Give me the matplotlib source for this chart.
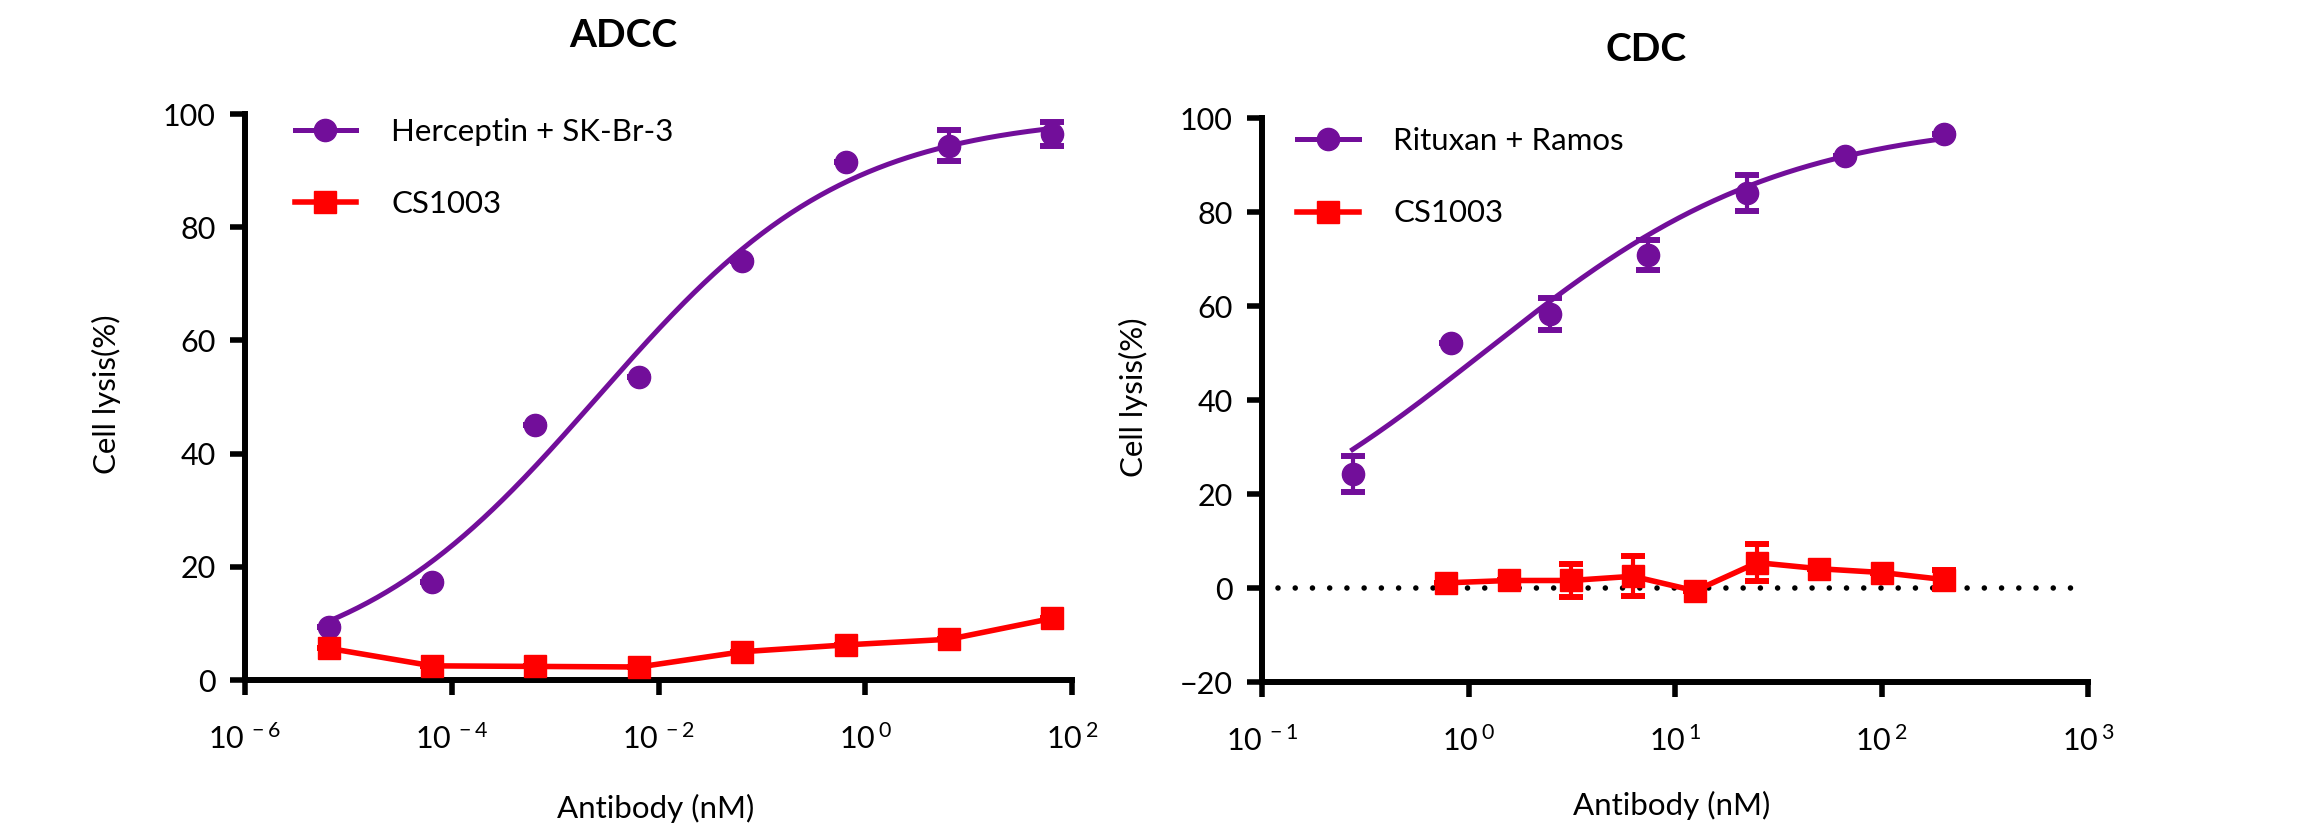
import matplotlib
matplotlib.use('Agg')
import matplotlib.pyplot as plt
from matplotlib.lines import Line2D
from matplotlib.ticker import FixedLocator, FuncFormatter, NullLocator
import numpy as np

plt.rcParams['font.family'] = ['Lato', 'DejaVu Sans']
plt.rcParams['mathtext.default'] = 'regular'

PURPLE = '#720E9A'
RED = '#FF0000'

# ADCC data (antibody nM, % lysis)
adcc_conc = [6.45e-6, 6.45e-5, 6.45e-4, 6.45e-3, 6.45e-2, 0.645, 6.45, 64.5]
adcc_herceptin = [9.4, 17.3, 45.1, 53.6, 74.1, 91.6, 94.4, 96.5]
adcc_herceptin_err = [0, 0, 0, 0, 0, 0, 2.7, 2.1]
adcc_cs1003 = [5.6, 2.5, 2.4, 2.3, 5.0, 6.2, 7.2, 10.9]
adcc_cs1003_err = [0, 0, 0, 0, 0, 0, 0, 0]
# 4PL fit: bottom, top, logEC50, hill slope
adcc_fit = [0.0, 100.0, -2.59, 0.36]

# CDC data
cdc_conc_rituxan = [0.2743, 0.823, 2.469, 7.407, 22.22, 66.67, 200]
cdc_rituxan = [24.3, 52.2, 58.3, 70.8, 84.1, 92.0, 96.5]
cdc_rituxan_err = [3.8, 0, 3.5, 3.2, 3.8, 0, 0]
cdc_conc_cs1003 = [0.78125, 1.5625, 3.125, 6.25, 12.5, 25, 50, 100, 200]
cdc_cs1003 = [1.1, 1.6, 1.6, 2.5, -0.6, 5.4, 4.1, 3.3, 1.8]
cdc_cs1003_err = [0, 0, 3.5, 4.3, 0, 4.0, 0, 0, 2.0]
cdc_fit = [0.0, 100.0, 0.07, 0.6]


def hill(logx, bottom, top, logec50, slope):
    return bottom + (top - bottom) / (1 + 10 ** ((logec50 - logx) * slope))


def fmt_pow(v, pos):
    return r'10$^{\,%d}$' % round(np.log10(v))


def draw_points(ax, x, y, err, color, marker, line=True):
    ax.errorbar(x, y, yerr=err, fmt='none', ecolor=color, elinewidth=3,
                capsize=8.3, capthick=4.3, zorder=3)
    ax.plot(x, y, color=color, lw=4 if line else 0, marker=marker, ms=16,
            zorder=4)


def style_axes(ax, xlim, xticks, ylim, yticks):
    ax.set_xscale('log')
    ax.set_xlim(*xlim)
    ax.set_ylim(*ylim)
    ax.xaxis.set_major_locator(FixedLocator(xticks))
    ax.xaxis.set_minor_locator(NullLocator())
    ax.xaxis.set_major_formatter(FuncFormatter(fmt_pow))
    ax.set_yticks(yticks)
    for s in ['top', 'right']:
        ax.spines[s].set_visible(False)
    for s in ['left', 'bottom']:
        ax.spines[s].set_linewidth(4.3)
    ax.tick_params(axis='both', width=4, length=11, labelsize=22)
    ax.tick_params(axis='x', pad=20)
    ax.tick_params(axis='y', pad=10)


fig = plt.figure(figsize=(23.09, 8.36), dpi=100)

# ADCC panel
ax1 = fig.add_axes([0.1061, 0.1866, 0.3582, 0.677])
style_axes(ax1, (1e-6, 1e2), [1e-6, 1e-4, 1e-2, 1e0, 1e2], (0, 100),
           [0, 20, 40, 60, 80, 100])
lx = np.linspace(np.log10(adcc_conc[0]), np.log10(adcc_conc[-1]), 300)
ax1.plot(10 ** lx, hill(lx, *adcc_fit), color=PURPLE, lw=3.6, zorder=2)
draw_points(ax1, adcc_conc, adcc_herceptin, adcc_herceptin_err, PURPLE, 'o',
            line=False)
draw_points(ax1, adcc_conc, adcc_cs1003, adcc_cs1003_err, RED, 's')
h1 = [Line2D([], [], color=PURPLE, lw=3.6, marker='o', ms=16),
      Line2D([], [], color=RED, lw=4, marker='s', ms=16)]
ax1.legend(h1, ['Herceptin + SK-Br-3', 'CS1003'], loc='upper left',
           bbox_to_anchor=(0.06, 0.993), frameon=False, fontsize=22.5,
           handlelength=1.95, handletextpad=1.15, labelspacing=1.42,
           borderpad=0, borderaxespad=0)

# CDC panel
ax2 = fig.add_axes([0.5466, 0.1842, 0.3577, 0.6746])
style_axes(ax2, (1e-1, 1e3), [1e-1, 1e0, 1e1, 1e2, 1e3], (-20, 100),
           [-20, 0, 20, 40, 60, 80, 100])
ax2.axhline(0, xmin=0.019, xmax=0.985, color='black', lw=4,
            linestyle=(0, (0.001, 3.1)), dash_capstyle='round', zorder=1)
lx = np.linspace(np.log10(cdc_conc_rituxan[0]), np.log10(cdc_conc_rituxan[-1]), 300)
ax2.plot(10 ** lx, hill(lx, *cdc_fit), color=PURPLE, lw=3.6, zorder=2)
draw_points(ax2, cdc_conc_rituxan, cdc_rituxan, cdc_rituxan_err, PURPLE, 'o',
            line=False)
draw_points(ax2, cdc_conc_cs1003, cdc_cs1003, cdc_cs1003_err, RED, 's')
h2 = [Line2D([], [], color=PURPLE, lw=3.6, marker='o', ms=16),
      Line2D([], [], color=RED, lw=4, marker='s', ms=16)]
ax2.legend(h2, ['Rituxan + Ramos', 'CS1003'], loc='upper left',
           bbox_to_anchor=(0.042, 0.984), frameon=False, fontsize=22.5,
           handlelength=1.98, handletextpad=1.1, labelspacing=1.42,
           borderpad=0, borderaxespad=0)

# titles and axis labels
fig.text(0.2700, 0.958, 'ADCC', fontsize=28, fontweight='bold',
         ha='center', va='center')
fig.text(0.7129, 0.941, 'CDC', fontsize=28, fontweight='bold',
         ha='center', va='center')
fig.text(0.0463, 0.529, 'Cell lysis(%)', fontsize=22.5, rotation=90,
         ha='center', va='center')
fig.text(0.4907, 0.525, 'Cell lysis(%)', fontsize=22.5, rotation=90,
         ha='center', va='center')
fig.text(0.2840, 0.033, 'Antibody (nM)', fontsize=22.5, ha='center', va='center')
fig.text(0.7240, 0.036, 'Antibody (nM)', fontsize=22.5, ha='center', va='center')

fig.savefig('out.png', dpi=100)
